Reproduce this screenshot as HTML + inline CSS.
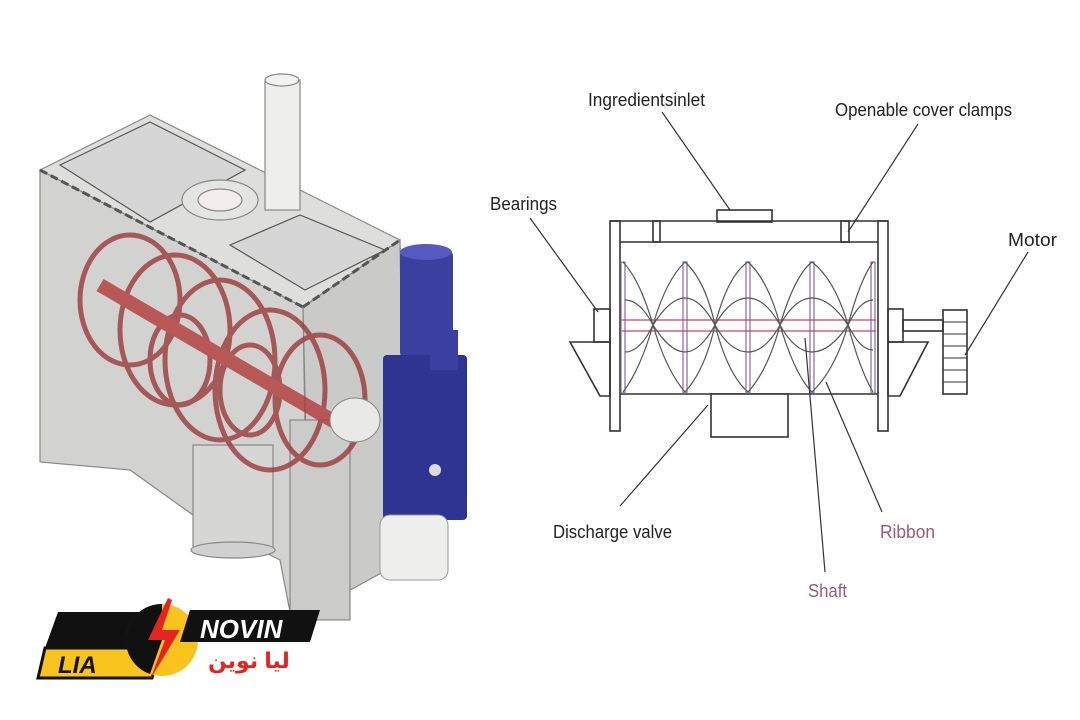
<!DOCTYPE html>
<html><head><meta charset="utf-8"><style>
html,body{margin:0;padding:0;background:#fff;}
svg{display:block;}
.l{font-family:"Liberation Sans",sans-serif;font-size:18px;fill:#222;}
</style></head><body>
<svg width="1080" height="720" viewBox="0 0 1080 720" xmlns="http://www.w3.org/2000/svg">
<rect width="1080" height="720" fill="#fff"/>
<!-- LEFT MACHINE -->
<g stroke="#888" stroke-width="1.2">
  <polygon points="40,170 303,307 308,612 290,612 280,560 200,520 130,470 40,462" fill="#d2d2d0"/>
  <polygon points="40,170 150,115 400,240 303,307" fill="#dededc"/>
  <polygon points="303,307 400,240 405,560 310,612" fill="#cacac8"/>
  <polygon points="60,165 150,122 245,170 150,222" fill="#d5d6d5" stroke="#555"/>
  <polygon points="230,245 300,215 385,250 305,290" fill="#d5d6d5" stroke="#555"/>
  <line x1="40" y1="170" x2="303" y2="307" stroke="#555" stroke-width="3" stroke-dasharray="8,4"/>
  <line x1="303" y1="307" x2="400" y2="240" stroke="#555" stroke-width="3" stroke-dasharray="8,4"/>
  <rect x="290" y="420" width="60" height="200" fill="#cbcbc9"/>
  <path d="M193,445 L193,550 Q233,565 273,550 L273,445 Z" fill="#d6d6d5"/>
  <ellipse cx="233" cy="550" rx="42" ry="8" fill="#d0d0d0"/>
  <rect x="265" y="80" width="35" height="130" fill="#eeeeec"/>
  <ellipse cx="282" cy="80" rx="17" ry="6" fill="#f2f2f2"/>
  <ellipse cx="220" cy="200" rx="38" ry="20" fill="#e4e4e2"/>
  <ellipse cx="220" cy="200" rx="22" ry="11" fill="#f3eded"/>
</g>
<g fill="none" stroke="#9b3a3a" stroke-width="5" opacity="0.8">
  <ellipse cx="130" cy="300" rx="50" ry="65"/>
  <ellipse cx="175" cy="330" rx="55" ry="75"/>
  <ellipse cx="220" cy="360" rx="55" ry="80"/>
  <ellipse cx="270" cy="390" rx="55" ry="80"/>
  <ellipse cx="320" cy="400" rx="45" ry="65"/>
  <ellipse cx="180" cy="360" rx="30" ry="45"/>
  <ellipse cx="250" cy="390" rx="30" ry="45"/>
  <line x1="100" y1="285" x2="340" y2="425" stroke="#b23a3a" stroke-width="14"/>
</g>
<ellipse cx="355" cy="420" rx="25" ry="22" fill="#e9e9e7" stroke="#888"/>
<rect x="400" y="250" width="53" height="108" rx="6" fill="#3b3fa0"/>
<ellipse cx="426" cy="252" rx="26" ry="8" fill="#5559c0"/>
<rect x="383" y="355" width="84" height="165" rx="4" fill="#2f3391"/>
<rect x="430" y="330" width="28" height="40" fill="#3b3fa0"/>
<circle cx="435" cy="470" r="6" fill="#ddd"/>
<rect x="380" y="515" width="68" height="65" rx="10" fill="#eeeeec" stroke="#999"/>
<!-- LOGO -->
<g>
  <polygon points="58,612 170,612 160,648 45,648" fill="#111"/>
  <polygon points="45,648 160,648 152,678 38,678" fill="#f7c31c" stroke="#111" stroke-width="3"/>
  <text x="58" y="673" font-family="Liberation Sans" font-weight="bold" font-style="italic" font-size="24" fill="#111">LIA</text>
  <circle cx="162" cy="640" r="36" fill="#f7c31c"/>
  <path d="M162,604 A36,36 0 0 0 150,674 L162,640 Z" fill="#111"/>
  <polygon points="190,610 320,610 310,642 180,642" fill="#111"/>
  <text x="200" y="638" font-family="Liberation Sans" font-weight="bold" font-style="italic" font-size="26" fill="#fff">NOVIN</text>
  <polygon points="168,598 148,640 165,640 150,680 180,630 162,630 172,600" fill="#e52421"/>
  <text x="208" y="668" font-family="Liberation Sans,'DejaVu Sans',sans-serif" font-weight="bold" font-size="22" fill="#e52421">ليا نوين</text>
</g>
<!-- RIGHT DIAGRAM -->
<g fill="none" stroke="#333" stroke-width="1.6">
  <rect x="717" y="210" width="55" height="12" fill="#fff"/>
  <line x1="610" y1="221" x2="888" y2="221"/>
  <line x1="620" y1="242" x2="878" y2="242"/>
  <line x1="620" y1="394" x2="878" y2="394"/>
  <rect x="610" y="221" width="10" height="210"/>
  <rect x="878" y="221" width="10" height="210"/>
  <rect x="653" y="221" width="7" height="21"/>
  <rect x="841" y="221" width="8" height="21"/>
  <rect x="594" y="309" width="16" height="33"/>
  <polygon points="570,342 610,342 610,396 600,396"/>
  <rect x="888" y="309" width="15" height="33"/>
  <polygon points="888,342 928,342 900,396 888,396"/>
  <rect x="903" y="320" width="40" height="11"/>
  <rect x="943" y="310" width="24" height="84"/>
  <path d="M943,322h24M943,334h24M943,346h24M943,358h24M943,370h24M943,382h24" stroke-width="1"/>
  <rect x="711" y="394" width="77" height="43" fill="#fff"/>
</g>
<g fill="none" stroke="#8a6a9a" stroke-width="1.2">
  <rect x="621" y="262" width="4" height="131"/>
  <rect x="683" y="262" width="4" height="131"/>
  <rect x="746" y="262" width="4" height="131"/>
  <rect x="810" y="262" width="4" height="131"/>
  <rect x="871" y="262" width="4" height="131"/>
</g>
<g stroke="#c0486a" stroke-width="1.3">
  <line x1="622" y1="320" x2="876" y2="320"/>
  <line x1="622" y1="331" x2="876" y2="331"/>
</g>
<g fill="none" stroke="#555" stroke-width="1.2">
  <path d="M623,262 Q640,280 653,325 Q666,280 685,262 Q705,280 715,325 Q728,275 748,262 Q768,280 780,325 Q795,275 812,262 Q835,280 848,325 Q860,280 873,262"/>
  <path d="M623,392 Q640,370 653,325 Q666,370 685,392 Q705,370 715,325 Q728,375 748,392 Q768,370 780,325 Q795,375 812,392 Q835,370 848,325 Q860,370 873,392"/>
  <path d="M625,300 Q640,300 653,325 Q670,298 685,298 Q700,298 715,325 Q730,298 748,298 Q765,298 780,325 Q795,298 812,298 Q830,298 848,325 Q860,300 873,300"/>
  <path d="M625,352 Q640,352 653,325 Q670,352 685,352 Q700,352 715,325 Q730,352 748,352 Q765,352 780,325 Q795,352 812,352 Q830,352 848,325 Q860,350 873,350"/>
</g>
<g stroke="#333" stroke-width="1.2">
  <line x1="662" y1="112" x2="730" y2="210"/>
  <line x1="918" y1="124" x2="848" y2="232"/>
  <line x1="530" y1="218" x2="598" y2="312"/>
  <line x1="1028" y1="252" x2="965" y2="355"/>
  <line x1="620" y1="506" x2="708" y2="405"/>
  <line x1="825" y1="572" x2="805" y2="338"/>
  <line x1="882" y1="512" x2="826" y2="382"/>
</g>
<text class="l" x="588" y="106" textLength="117" lengthAdjust="spacingAndGlyphs">Ingredientsinlet</text>
<text class="l" x="835" y="116" textLength="177" lengthAdjust="spacingAndGlyphs">Openable cover clamps</text>
<text class="l" x="490" y="210" textLength="67" lengthAdjust="spacingAndGlyphs">Bearings</text>
<text class="l" x="1008" y="246" textLength="49" lengthAdjust="spacingAndGlyphs">Motor</text>
<text class="l" x="553" y="538" textLength="119" lengthAdjust="spacingAndGlyphs">Discharge valve</text>
<text class="l" x="880" y="538" textLength="55" lengthAdjust="spacingAndGlyphs" style="fill:#9a5a7a">Ribbon</text>
<text class="l" x="808" y="597" textLength="39" lengthAdjust="spacingAndGlyphs" style="fill:#9a5a7a">Shaft</text>
</svg>
</body></html>
